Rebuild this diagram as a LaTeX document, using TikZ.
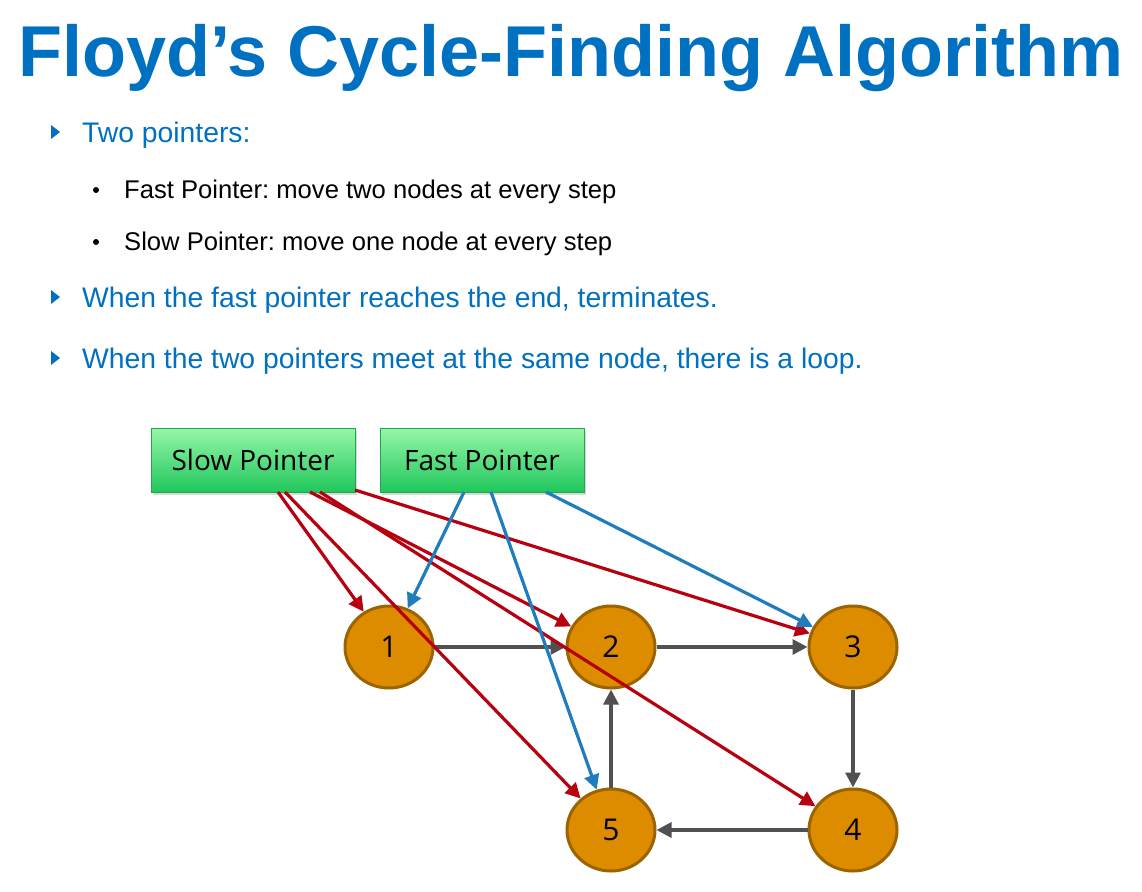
\documentclass[tikz,border=0pt]{standalone}
\usepackage{fontspec}
\setmainfont{Liberation Sans}
\newfontfamily\boxfont{Open Sans}
\usetikzlibrary{arrows.meta,shapes.geometric,shadows}
\definecolor{titleblue}{HTML}{0070C0}
\definecolor{slowred}{HTML}{B70010}
\definecolor{fastblue}{HTML}{1F7DBE}
\definecolor{edgegray}{HTML}{505050}
\definecolor{nodefill}{HTML}{DD8C00}
\definecolor{nodeborder}{HTML}{9A6400}
\definecolor{boxtop}{HTML}{95F7A8}
\definecolor{boxbot}{HTML}{20C65C}
\definecolor{boxborder}{HTML}{1FA84A}
\frenchspacing
\begin{document}
\begin{tikzpicture}[x=1pt,y=-1pt,
  numnode/.style={ellipse, draw=nodeborder, line width=3pt, fill=nodefill,
    minimum width=88pt, minimum height=82pt, inner sep=0pt,
    font=\boxfont\fontsize{30}{30}\selectfont},
  ptrbox/.style={rectangle, draw=boxborder, line width=1pt, top color=boxtop,
    bottom color=boxbot, minimum width=204pt, minimum height=64pt, inner sep=0pt,
    font=\boxfont\fontsize{28}{28}\selectfont,
    drop shadow={opacity=0.3, shadow xshift=2pt, shadow yshift=-2.5pt}},
  tip/.style={-{Triangle[length=15pt,width=15pt]}},
  slowarr/.style={draw=slowred, line width=3.2pt, tip},
  fastarr/.style={draw=fastblue, line width=3.2pt, tip},
  edgearr/.style={draw=edgegray, line width=3.2pt, tip},
  bluetext/.style={anchor=base west, inner sep=0pt, text=titleblue, font=\fontsize{28.3}{30}\selectfont},
  blacktext/.style={anchor=base west, inner sep=0pt, text=black, font=\fontsize{25.6}{28}\selectfont},
]
\useasboundingbox (0,0) rectangle (1142,891);

% title and text
\node[anchor=base west, inner sep=0pt, text=titleblue, font=\bfseries\fontsize{72}{72}\selectfont] (title) at (18,77) {Floyd’s Cycle-Finding Algorithm};

\fill[titleblue] (51,125) -- (60,132) -- (51,139) -- cycle;
\node[bluetext] (t1) at (82,142) {Two pointers:};
\fill[black] (96,190) circle (3);
\node[blacktext] (t2) at (124,198) {Fast Pointer: move two nodes at every step};
\fill[black] (96,242) circle (3);
\node[blacktext] (t3) at (124,250) {Slow Pointer: move one node at every step};
\fill[titleblue] (51,290) -- (60,297) -- (51,304) -- cycle;
\node[bluetext] (t4) at (82,307) {When the fast pointer reaches the end, terminates.};
\fill[titleblue] (51,351) -- (60,358) -- (51,365) -- cycle;
\node[bluetext] (t5) at (82,368) {When the two pointers meet at the same node, there is a loop.};

% pointer boxes
\node[ptrbox] (slow) at (253,460) {Slow Pointer};
\node[ptrbox] (fast) at (482,460) {Fast Pointer};

% list nodes
\node[numnode] (n1) at (389,647) {1};
\node[numnode] (n2) at (611,647) {2};
\node[numnode] (n3) at (853,647) {3};
\node[numnode] (n4) at (853,830) {4};
\node[numnode] (n5) at (611,830) {5};

% list edges
\draw[edgearr] (n1) -- (n2);
\draw[edgearr] (n2) -- (n3);
\draw[edgearr] (n3) -- (n4);
\draw[edgearr] (n4) -- (n5);
\draw[edgearr] (n5) -- (n2);

% start points on the boxes
\coordinate (s1) at (278,492);
\coordinate (s5) at (285,492);
\coordinate (s2) at (310,492);
\coordinate (s4) at (320,492);
\coordinate (s3) at (355,490);
\coordinate (f1) at (464,492);
\coordinate (f5) at (491,492);
\coordinate (f3) at (546,492);

\draw[slowarr] (s1) -- (n1);
\draw[slowarr] (s5) -- (n5);
\draw[slowarr] (s2) -- (n2);
\draw[slowarr] (s4) -- (n4);
\draw[slowarr] (s3) -- (n3);
\draw[fastarr] (f1) -- (n1);
\draw[fastarr] (f5) -- (n5);
\draw[fastarr] (f3) -- (n3);
\end{tikzpicture}
\end{document}
